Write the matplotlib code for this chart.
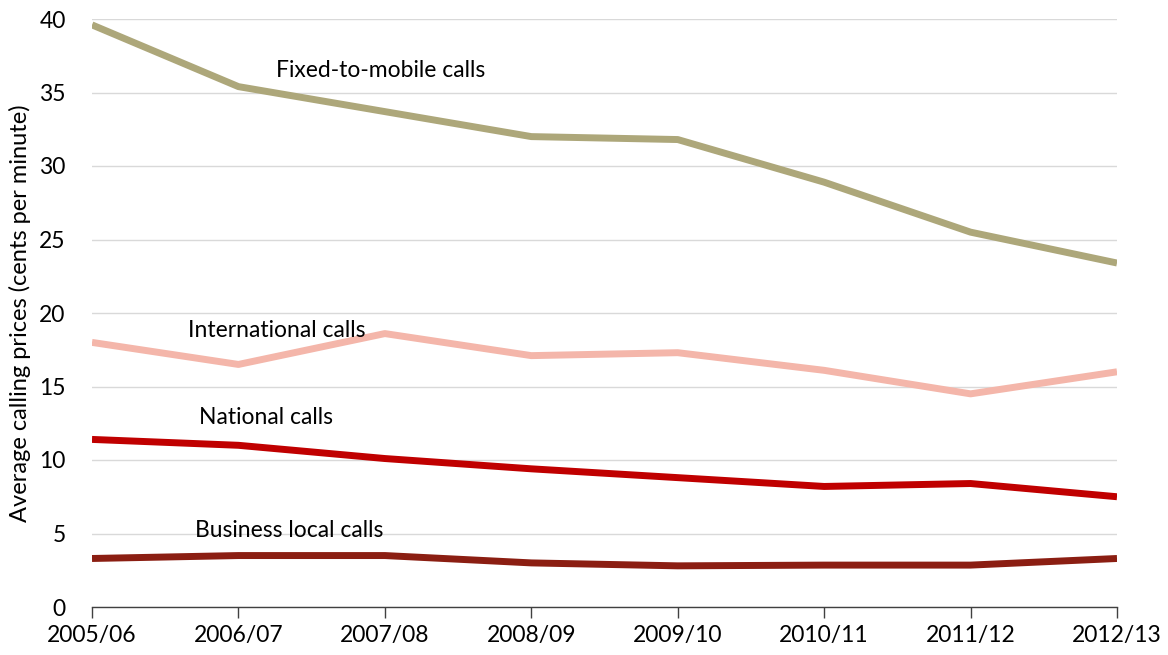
import matplotlib
matplotlib.use("Agg")
import matplotlib.pyplot as plt

years = ["2005/06", "2006/07", "2007/08", "2008/09", "2009/10", "2010/11", "2011/12", "2012/13"]
fixed_to_mobile = [39.6, 35.4, 33.7, 32.0, 31.8, 28.9, 25.5, 23.4]
international = [18.0, 16.5, 18.6, 17.1, 17.3, 16.1, 14.5, 16.0]
national = [11.4, 11.0, 10.1, 9.4, 8.8, 8.2, 8.4, 7.5]
business_local = [3.3, 3.5, 3.5, 3.0, 2.8, 2.85, 2.85, 3.3]

plt.rcParams['font.family'] = ['Lato', 'DejaVu Sans']

fig = plt.figure(figsize=(11.68, 6.55), dpi=100)
ax = fig.add_axes([92/1168, 1-607/655, (1117-92)/1168, (607-19)/655])

x = list(range(len(years)))
lw = 5.0
ax.plot(x, fixed_to_mobile, color="#ADA77A", lw=lw, solid_capstyle='butt', zorder=3)
ax.plot(x, international, color="#F4B6AA", lw=lw, solid_capstyle='butt', zorder=3)
ax.plot(x, national, color="#C00000", lw=lw, solid_capstyle='butt', zorder=3)
ax.plot(x, business_local, color="#8B1E12", lw=lw, solid_capstyle='butt', zorder=3)

ax.set_xlim(0, len(years)-1)
ax.set_ylim(0, 40)
ax.set_yticks(range(0, 41, 5))
ax.set_xticks(x)
ax.set_xticklabels(years)
ax.tick_params(axis='both', labelsize=16.5, colors='black')
ax.tick_params(axis='y', length=0, pad=19)
ax.tick_params(axis='x', length=8, width=1, color='#404040', pad=5, direction='out')
ax.grid(axis='y', color='#D9D9D9', lw=1)
ax.set_axisbelow(True)
for s in ['top', 'right', 'left']:
    ax.spines[s].set_visible(False)
ax.spines['bottom'].set_color('#404040')
ax.spines['bottom'].set_linewidth(1)

ax.set_ylabel("Average calling prices (cents per minute)", fontsize=17, labelpad=6)

fs = 16.5
ax.text(1.97, 36.5, "Fixed-to-mobile calls", fontsize=fs, ha='center', va='center')
ax.text(1.26, 18.8, "International calls", fontsize=fs, ha='center', va='center')
ax.text(1.19, 12.9, "National calls", fontsize=fs, ha='center', va='center')
ax.text(1.35, 5.2, "Business local calls", fontsize=fs, ha='center', va='center')

fig.savefig("out.png", dpi=100)
